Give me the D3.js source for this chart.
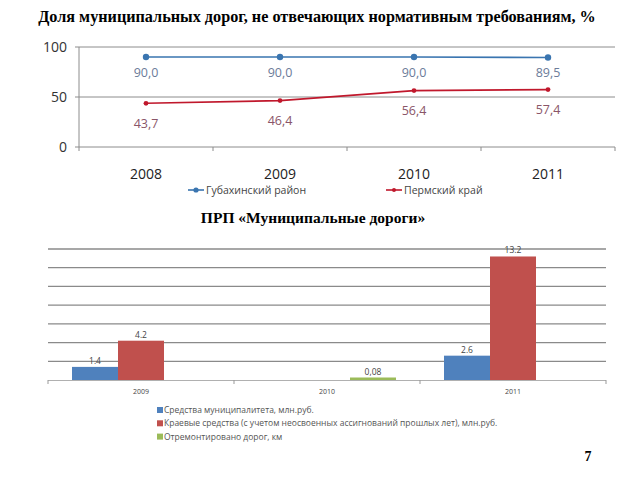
<!DOCTYPE html>
<html><head><meta charset="utf-8">
<script src="https://cdn.jsdelivr.net/npm/d3@7"></script>
<style>body{margin:0;background:#fff}svg{display:block}</style>
</head><body>
<svg id="c" width="640" height="480"></svg>
<script>
// ---- top chart data
const years1 = ["2008","2009","2010","2011"];
const gubakha = [90.0, 90.0, 90.0, 89.5];
const perm = [43.7, 46.4, 56.4, 57.4];
const series1Names = ["Губахинский район","Пермский край"];
const yTicks1 = [0, 50, 100];
// ---- bottom chart data
const years2 = ["2009","2010","2011"];
const municipal = [1.4, null, 2.6];
const regional = [4.2, null, 13.2];
const repaired = [null, 0.08, null];
const muniLabels = ["1.4", "", "2.6"];
const regLabels = ["4.2", "", "13.2"];
const repLabels = ["", "0,08", ""];
const series2Names = ["Средства муниципалитета, млн.руб.","Краевые средства (с учетом неосвоенных ассигнований прошлых лет), млн.руб.","Отремонтировано дорог, км"];
const yTicks2 = [0,2,4,6,8,10,12,14];

const svg = d3.select("#c");
const fmt = v => v.toFixed(1).replace(".", ",");

// titles
svg.append("text").attr("x",317).attr("y",22).attr("text-anchor","middle")
  .attr("font-family","Liberation Serif").attr("font-weight","bold").attr("font-size",16.2)
  .text("Доля муниципальных дорог, не отвечающих нормативным требованиям, %");
svg.append("text").attr("x",313).attr("y",223).attr("text-anchor","middle")
  .attr("font-family","Liberation Serif").attr("font-weight","bold").attr("font-size",15.5)
  .text("ПРП «Муниципальные дороги»");
svg.append("text").attr("x",588).attr("y",461).attr("text-anchor","middle")
  .attr("font-family","Liberation Serif").attr("font-weight","bold").attr("font-size",14)
  .text("7");

// ---- top chart
const x1 = d3.scaleBand().domain(years1).range([79,615]);
const y1 = d3.scaleLinear().domain([0,100]).range([147,47]);
const g1 = svg.append("g");
g1.selectAll("line.grid").data(yTicks1).join("line")
  .attr("x1",75).attr("x2",615).attr("y1",d=>y1(d)).attr("y2",d=>y1(d))
  .attr("stroke","#8c8c8c").attr("stroke-width",1);
g1.append("line").attr("x1",79).attr("x2",79).attr("y1",47).attr("y2",151).attr("stroke","#8c8c8c");
g1.selectAll("line.xt").data(years1.slice(1)).join("line")
  .attr("x1",d=>x1(d)).attr("x2",d=>x1(d)).attr("y1",147).attr("y2",151).attr("stroke","#8c8c8c");
g1.append("line").attr("x1",615).attr("x2",615).attr("y1",147).attr("y2",151).attr("stroke","#8c8c8c");
g1.selectAll("text.yl").data(yTicks1).join("text")
  .attr("x",67).attr("y",d=>y1(d)+5).attr("text-anchor","end")
  .attr("font-family","Open Sans").attr("font-size",14).attr("fill","#333").text(d=>d);
g1.selectAll("text.xl").data(years1).join("text")
  .attr("x",d=>x1(d)+x1.bandwidth()/2).attr("y",179).attr("text-anchor","middle")
  .attr("font-family","Open Sans").attr("font-size",14).attr("fill","#222").text(d=>d);
const cx = (d,i)=>x1(years1[i])+x1.bandwidth()/2;
const line = d3.line().x((d,i)=>cx(d,i)).y(d=>y1(d));
// blue
g1.append("path").datum(gubakha).attr("d",line).attr("fill","none").attr("stroke","#3a75b0").attr("stroke-width",1.6);
g1.selectAll("circle.b").data(gubakha).join("circle").attr("cx",cx).attr("cy",d=>y1(d)).attr("r",3.2).attr("fill","#3a75b0");
g1.selectAll("text.bl").data(gubakha).join("text").attr("x",cx).attr("y",d=>y1(d)+19.5)
  .attr("text-anchor","middle").attr("font-family","Open Sans").attr("font-size",12.5).attr("fill","#6b7b99").text(fmt);
// red
g1.append("path").datum(perm).attr("d",line).attr("fill","none").attr("stroke","#c0182c").attr("stroke-width",1.6);
g1.selectAll("circle.r").data(perm).join("circle").attr("cx",cx).attr("cy",d=>y1(d)).attr("r",2.4).attr("fill","#c0182c");
g1.selectAll("text.rl").data(perm).join("text").attr("x",cx).attr("y",d=>y1(d)+24.5)
  .attr("text-anchor","middle").attr("font-family","Open Sans").attr("font-size",12.5).attr("fill","#8a5568").text(fmt);
// legend top
const lg1 = [{c:"#3a75b0",x:188,r:2.6,t:series1Names[0]},{c:"#c0182c",x:386,r:2,t:series1Names[1]}];
lg1.forEach(d=>{
  g1.append("line").attr("x1",d.x).attr("x2",d.x+16).attr("y1",190).attr("y2",190).attr("stroke",d.c).attr("stroke-width",1.6);
  g1.append("circle").attr("cx",d.x+8).attr("cy",190).attr("r",d.r).attr("fill",d.c);
  g1.append("text").attr("x",d.x+18).attr("y",194).attr("font-family","Open Sans").attr("font-size",10.5).attr("fill","#444").text(d.t);
});

// ---- bottom chart
const x2 = d3.scaleBand().domain(years2).range([48,606]);
const y2 = d3.scaleLinear().domain([0,14]).range([380,249]);
const sub = d3.scaleBand().domain([0,1,2]).range([0,138]);
const g2 = svg.append("g");
g2.selectAll("line.g").data(yTicks2.slice(1)).join("line")
  .attr("x1",48).attr("x2",606).attr("y1",d=>y2(d)).attr("y2",d=>y2(d))
  .attr("stroke","#8a8a8a").attr("stroke-width",1.3);
g2.append("line").attr("x1",48).attr("x2",606).attr("y1",380.5).attr("y2",380.5).attr("stroke","#b0b0b0");
g2.selectAll("line.t").data([48, ...years2.slice(1).map(d=>x2(d)), 606]).join("line")
  .attr("x1",d=>d).attr("x2",d=>d).attr("y1",380).attr("y2",384).attr("stroke","#999");
const series2 = [{v:municipal,l:muniLabels,c:"#4f81bd"},{v:regional,l:regLabels,c:"#c0504d"},{v:repaired,l:repLabels,c:"#9bbb59"}];
series2.forEach((s,si)=>{
  years2.forEach((yr,i)=>{
    const v = s.v[i]; if(v==null) return;
    const bx = x2(yr)+x2.bandwidth()/2-69+sub(si);
    const top = Math.min(y2(v), 377.5);
    g2.append("rect").attr("x",bx).attr("y",top).attr("width",sub.bandwidth()).attr("height",380-top).attr("fill",s.c);
    g2.append("text").attr("x",bx+sub.bandwidth()/2).attr("y",top-3).attr("text-anchor","middle")
      .attr("font-family","Open Sans").attr("font-size",8.5).attr("fill","#444").text(s.l[i]);
  });
});
g2.selectAll("text.x2").data(years2).join("text")
  .attr("x",d=>x2(d)+x2.bandwidth()/2).attr("y",394).attr("text-anchor","middle")
  .attr("font-family","Open Sans").attr("font-size",7).attr("fill","#444").text(d=>d);
series2.forEach((s,i)=>{
  const yy = 411 + i*13.3;
  g2.append("rect").attr("x",157).attr("y",yy-4).attr("width",6).attr("height",6).attr("fill",s.c);
  g2.append("text").attr("x",164).attr("y",yy+2).attr("font-family","Open Sans").attr("font-size",8.5).attr("fill","#555").text(series2Names[i]);
});
</script>
</body></html>
